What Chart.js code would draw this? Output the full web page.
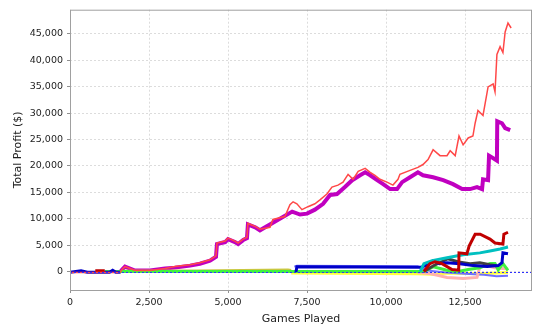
<!DOCTYPE html>
<html>
<head>
<meta charset="utf-8">
<script src="https://cdn.jsdelivr.net/npm/chart.js@4/dist/chart.umd.min.js"></script>
<style>
  html, body { margin: 0; padding: 0; background: #fff; }
  #wrap { width: 540px; height: 328px; }
</style>
</head>
<body>
<div id="wrap"><canvas id="grafico" width="540" height="328"></canvas></div>
<script>
// Ticks de los ejes
const xTicks = [0, 2500, 5000, 7500, 10000, 12500];
const yTicks = [0, 5000, 10000, 15000, 20000, 25000, 30000, 35000, 40000, 45000];

// Serie roja (fina)
const rojoX = [0, 1580, 1650, 1740, 1900, 2060, 2530, 3010, 3320, 3800, 4110, 4430, 4620, 4650, 4910, 5000, 5220, 5320, 5480, 5600, 5630, 5860, 6010, 6330, 6420, 6800, 6960, 7060, 7180, 7340, 7530, 7750, 7910, 8130, 8290, 8480, 8640, 8800, 8960, 9120, 9340, 9500, 9650, 9810, 10030, 10220, 10380, 10440, 10760, 11010, 11170, 11330, 11490, 11710, 11930, 12030, 12190, 12310, 12440, 12600, 12750, 12820, 12910, 13070, 13230, 13390, 13450, 13510, 13610, 13700, 13770, 13860, 13960];
const rojoY = [-200, -200, 370, 930, 560, 190, 190, 560, 930, 1300, 1670, 2230, 2980, 5390, 5770, 6320, 5770, 5390, 6140, 6510, 9110, 8560, 8000, 8370, 9860, 10420, 12650, 13210, 12830, 11720, 12280, 12830, 13580, 14690, 16000, 16370, 16930, 18410, 17480, 18970, 19530, 18790, 18230, 17480, 16930, 16370, 17480, 18410, 19160, 19720, 20270, 21200, 23060, 21950, 21950, 22880, 21950, 25670, 23990, 25300, 25670, 28090, 30500, 29570, 34970, 35530, 34040, 41110, 42590, 41480, 45380, 47060, 46130];

// Serie magenta (gruesa)
const magentaX = [1600, 1650, 1740, 1900, 2060, 2530, 3010, 3320, 3800, 4110, 4430, 4620, 4650, 4910, 5000, 5220, 5320, 5480, 5600, 5630, 5860, 6010, 6490, 7030, 7280, 7500, 7750, 8010, 8230, 8450, 8700, 8930, 9180, 9340, 9500, 9720, 9910, 10130, 10350, 10510, 10760, 11010, 11170, 11490, 11810, 12120, 12410, 12660, 12880, 13040, 13070, 13230, 13260, 13510, 13520, 13670, 13770, 13930];
const magentaY = [0, 370, 930, 560, 190, 190, 560, 740, 1120, 1480, 2050, 2790, 5210, 5580, 6140, 5580, 5210, 5960, 6320, 8930, 8370, 7810, 9490, 11350, 10790, 10970, 11720, 12830, 14510, 14690, 16000, 17300, 18230, 18790, 18230, 17300, 16550, 15620, 15620, 16930, 17860, 18790, 18230, 17860, 17300, 16550, 15620, 15620, 16000, 15620, 17480, 17300, 21950, 21020, 28460, 28090, 27160, 26780];

// Series pequeñas cerca de cero
const rojoOscX = [800, 1100, 1101, 11200, 11390, 11550, 11770, 12090, 12300, 12310, 12560, 12630, 12820, 12980, 13290, 13450, 13700, 13730, 13860];
const rojoOscY = [150, 150, null, 0, 1490, 1860, 1490, 370, 250, 3540, 3350, 4840, 7070, 7070, 6140, 5400, 5210, 7070, 7440];

const cianX = [11080, 11200, 11460, 11930, 12440, 12970, 13290, 13610, 13860];
const cianY = [0, 1500, 2050, 2600, 3160, 3530, 3900, 4280, 4650];

const azulX = [0, 350, 550, 1250, 1350, 1450, 1600, 1601, 7150, 7180, 11100, 11300, 11490, 11700, 11930, 12340, 12750, 13200, 13550, 13670, 13700, 13860];
const azulY = [-150, 150, -150, -150, 250, -150, -150, null, -100, 900, 800, 1200, 2050, 1500, 1670, 1490, 1120, 930, 1120, 1670, 3540, 3350];

const grisX = [11200, 11500, 11960, 12300, 12660, 12970, 13290, 13500];
const grisY = [0, 1100, 2420, 1800, 1490, 1670, 1300, 1100];

const verdeX = [1100, 1700, 11200, 11500, 11900, 12200, 12600, 12970, 13290, 13450, 13550, 13700, 13860];
const verdeY = [0, 0, 0, 900, 300, -100, 400, 700, 1500, 1500, 300, 1500, 200];

const rosaX = [11000, 11390, 11930, 12440, 12880, 12970, 13200, 13450, 13860];
const rosaY = [-200, -370, -1120, -1300, -1120, 900, 1100, 700, 500];

const lilaX = [7100, 7180, 11000, 11300, 11900, 12500, 13100, 13500, 13860];
const lilaY = [900, 1100, 1000, 200, -200, -400, -600, -900, -800];

const olivaX = [1700, 4000, 6900, 7000];
const olivaY = [150, 200, 400, 300];

const amarilloX = [7000, 11000, 11500, 12000, 13000, 13860];
const amarilloY = [-300, -400, -500, -300, -400, -200];

function puntos(xs, ys) {
    return xs.map((x, i) => ({ x: x, y: ys[i] }));
}

function serie(xs, ys, color, ancho) {
    return {
        data: puntos(xs, ys),
        borderColor: color,
        borderWidth: ancho,
        pointRadius: 0,
        fill: false,
        tension: 0,
        spanGaps: false
    };
}

// Línea de cero y marco del área de trazado
const marco = {
    id: 'marco',
    afterDatasetsDraw(chart) {
        const ctx = chart.ctx;
        const area = chart.chartArea;
        const y0 = chart.scales.y.getPixelForValue(0);
        ctx.save();
        ctx.strokeStyle = '#3030ff';
        ctx.lineWidth = 1;
        ctx.setLineDash([2, 2]);
        ctx.beginPath();
        ctx.moveTo(area.left, Math.round(y0) + 0.5);
        ctx.lineTo(area.right, Math.round(y0) + 0.5);
        ctx.stroke();
        ctx.setLineDash([]);
        ctx.strokeStyle = '#a0a0a0';
        ctx.strokeRect(area.left + 0.5, area.top + 0.5, area.right - area.left - 1, area.bottom - area.top);
        ctx.restore();
    }
};

const fuente = { family: 'DejaVu Sans', size: 9.5 };
const fuenteTitulo = { family: 'DejaVu Sans', size: 11 };

const ctx = document.getElementById('grafico').getContext('2d');
const grafico = new Chart(ctx, {
    type: 'line',
    data: {
        datasets: [
            serie(rojoX, rojoY, '#ff4848', 1.5),
            serie(rojoOscX, rojoOscY, '#c00000', 3),
            serie(cianX, cianY, '#00c0c0', 3),
            serie(azulX, azulY, '#0000c8', 3),
            serie(grisX, grisY, '#404040', 3),
            serie(verdeX, verdeY, '#40f040', 3),
            serie(rosaX, rosaY, '#ffb0b0', 3),
            serie(lilaX, lilaY, '#7070ff', 2),
            serie(olivaX, olivaY, '#c8c840', 2),
            serie(amarilloX, amarilloY, '#ffff40', 3),
            serie(magentaX, magentaY, '#c000c0', 4)
        ]
    },
    options: {
        responsive: false,
        animation: false,
        layout: { padding: { top: 4, right: 8, left: 0, bottom: 0 } },
        plugins: {
            legend: { display: false },
            tooltip: { enabled: false }
        },
        scales: {
            x: {
                type: 'linear',
                min: 0,
                max: 14620,
                afterBuildTicks: s => { s.ticks = xTicks.map(v => ({ value: v })); },
                afterFit: s => { s.height = 38; },
                grid: { color: '#dcdcdc', tickColor: '#909090', tickLength: 3, tickBorderDash: [] },
                border: { display: false, dash: [2, 2] },
                ticks: {
                    font: fuente,
                    color: '#222',
                    padding: 4,
                    maxRotation: 0,
                    callback: v => v.toLocaleString('en-US')
                },
                title: { display: true, text: 'Games Played', font: fuenteTitulo, color: '#222', padding: { top: 0, bottom: 2 } }
            },
            y: {
                type: 'linear',
                min: -3500,
                max: 49600,
                afterBuildTicks: s => { s.ticks = yTicks.map(v => ({ value: v })); },
                afterFit: s => { s.width = 70; },
                grid: { color: '#dcdcdc', tickColor: '#909090', tickLength: 3, tickBorderDash: [] },
                border: { display: false, dash: [2, 2] },
                ticks: {
                    font: fuente,
                    color: '#222',
                    padding: 4,
                    callback: v => v.toLocaleString('en-US')
                },
                title: { display: true, text: 'Total Profit ($)', font: fuenteTitulo, color: '#222', padding: { top: 12, bottom: 0 } }
            }
        }
    },
    plugins: [marco]
});
</script>
</body>
</html>
